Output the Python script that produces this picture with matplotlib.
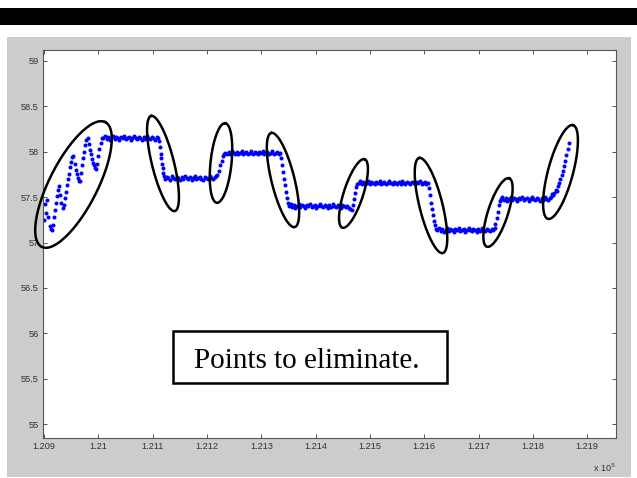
import numpy as np
import matplotlib
matplotlib.use("Agg")
import matplotlib.pyplot as plt
from matplotlib.patches import Rectangle
from matplotlib.lines import Line2D

# ---------------- data ----------------
X_TICKS = [120900, 121000, 121100, 121200, 121300, 121400, 121500, 121600, 121700, 121800, 121900]
X_TICK_LABELS = ["1.209", "1.21", "1.211", "1.212", "1.213", "1.214", "1.215", "1.216", "1.217", "1.218", "1.219"]
Y_TICKS = [55, 55.5, 56, 56.5, 57, 57.5, 58, 58.5, 59]
Y_TICK_LABELS = ["55", "55.5", "56", "56.5", "57", "57.5", "58", "58.5", "59"]

# segments: (start time, end time, values)
seg_zigzag_t = (120900, 121006)
seg_zigzag_y = [57.25, 57.42, 57.33, 57.47, 57.28, 57.18, 57.15, 57.14, 57.19, 57.28,
                57.36, 57.44, 57.51, 57.58, 57.62, 57.52, 57.44, 57.38, 57.41, 57.49,
                57.56, 57.63, 57.70, 57.76, 57.83, 57.89, 57.94, 57.95, 57.86, 57.80,
                57.75, 57.71, 57.68, 57.68, 57.77, 57.85, 57.93, 58.00, 58.07, 58.13,
                58.15, 58.08, 58.02, 57.97, 57.92, 57.88, 57.85, 57.82, 57.81, 57.87,
                57.95, 58.03, 58.10, 58.15]

seg_f1_t = (121009, 121110)
seg_f1_y = [58.15, 58.17, 58.14, 58.16, 58.13, 58.15, 58.17, 58.14, 58.16, 58.15,
            58.13, 58.16, 58.15, 58.17, 58.14, 58.15, 58.16, 58.13, 58.15, 58.17,
            58.15, 58.14, 58.16, 58.15, 58.13, 58.16, 58.14, 58.17, 58.15, 58.14,
            58.16, 58.15, 58.13, 58.16, 58.15]

seg_d1_t = (121112, 121121)
seg_d1_y = [58.12, 58.05, 57.98, 57.93, 57.87, 57.82, 57.77, 57.73]

seg_f2_t = (121123, 121217)
seg_f2_y = [57.70, 57.72, 57.71, 57.69, 57.73, 57.71, 57.70, 57.72, 57.71, 57.69,
            57.72, 57.70, 57.73, 57.71, 57.70, 57.72, 57.69, 57.71, 57.73, 57.70,
            57.71, 57.72, 57.70, 57.69, 57.72, 57.71, 57.70, 57.73, 57.71, 57.70,
            57.72, 57.73]

seg_r1_t = (121219, 121232)
seg_r1_y = [57.74, 57.79, 57.85, 57.90, 57.95, 57.98]

seg_f3_t = (121234, 121335)
seg_f3_y = [57.99, 57.97, 58.00, 57.98, 58.01, 57.99, 57.98, 58.00, 57.97, 57.99,
            58.01, 57.98, 57.99, 58.00, 57.97, 57.99, 58.01, 57.98, 58.00, 57.99,
            57.97, 58.00, 57.99, 58.01, 57.98, 57.99, 58.00, 57.97, 57.99, 58.01,
            57.98, 57.99, 58.00, 57.98, 57.99]

seg_d2_t = (121337, 121349)
seg_d2_y = [57.93, 57.85, 57.78, 57.70, 57.63, 57.56, 57.49, 57.43]

seg_f4_t = (121351, 121467)
seg_f4_y = [57.40, 57.42, 57.39, 57.41, 57.38, 57.40, 57.42, 57.39, 57.41, 57.40,
            57.38, 57.41, 57.40, 57.42, 57.39, 57.40, 57.41, 57.38, 57.40, 57.42,
            57.40, 57.39, 57.41, 57.40, 57.38, 57.41, 57.39, 57.42, 57.40, 57.39,
            57.41, 57.40, 57.38, 57.41, 57.40, 57.39, 57.40, 57.38, 57.37, 57.36]

seg_r2_t = (121469, 121477)
seg_r2_y = [57.41, 57.48, 57.55, 57.61, 57.65]

seg_f5_t = (121479, 121607)
seg_f5_y = [57.66, 57.68, 57.65, 57.67, 57.64, 57.66, 57.68, 57.65, 57.67, 57.66,
            57.64, 57.67, 57.66, 57.68, 57.65, 57.66, 57.67, 57.64, 57.66, 57.68,
            57.66, 57.65, 57.67, 57.66, 57.64, 57.67, 57.65, 57.68, 57.66, 57.65,
            57.67, 57.66, 57.64, 57.67, 57.66, 57.65, 57.67, 57.66, 57.68, 57.65,
            57.66, 57.67, 57.65, 57.66]

seg_d3_t = (121609, 121622)
seg_d3_y = [57.60, 57.52, 57.44, 57.37, 57.30, 57.24, 57.19, 57.15]

seg_f6_t = (121624, 121730)
seg_f6_y = [57.14, 57.16, 57.13, 57.15, 57.12, 57.14, 57.16, 57.13, 57.15, 57.14,
            57.12, 57.15, 57.14, 57.16, 57.13, 57.14, 57.15, 57.12, 57.14, 57.16,
            57.14, 57.13, 57.15, 57.14, 57.12, 57.15, 57.13, 57.16, 57.14, 57.13,
            57.15, 57.14, 57.13, 57.15, 57.14, 57.16]

seg_r3_t = (121731, 121739)
seg_r3_y = [57.20, 57.27, 57.34, 57.41, 57.46]

seg_f7_t = (121741, 121831)
seg_f7_y = [57.48, 57.50, 57.47, 57.49, 57.46, 57.48, 57.50, 57.47, 57.49, 57.48,
            57.46, 57.49, 57.48, 57.50, 57.47, 57.48, 57.49, 57.46, 57.48, 57.50,
            57.48, 57.47, 57.49, 57.48, 57.46, 57.49, 57.47, 57.50, 57.48, 57.47,
            57.49]

seg_r4_t = (121833, 121866)
seg_r4_y = [57.50, 57.53, 57.52, 57.55, 57.58, 57.57, 57.62, 57.66, 57.70, 57.74,
            57.79, 57.84, 57.90, 57.96, 58.03, 58.10]

SEGMENTS = [
    (seg_zigzag_t, seg_zigzag_y), (seg_f1_t, seg_f1_y), (seg_d1_t, seg_d1_y),
    (seg_f2_t, seg_f2_y), (seg_r1_t, seg_r1_y), (seg_f3_t, seg_f3_y),
    (seg_d2_t, seg_d2_y), (seg_f4_t, seg_f4_y), (seg_r2_t, seg_r2_y),
    (seg_f5_t, seg_f5_y), (seg_d3_t, seg_d3_y), (seg_f6_t, seg_f6_y),
    (seg_r3_t, seg_r3_y), (seg_f7_t, seg_f7_y), (seg_r4_t, seg_r4_y),
]

ANNOTATION_TEXT = "Points to eliminate."

# ---------------- layout (pixels of the 637x478 image) ----------------
W, H = 637, 478
# ellipses: centre x, centre y, semi-major, semi-minor, angle (deg, counter-clockwise)
ELLIPSES = [
    (73.5, 184.5, 70, 24, 63),
    (163, 163.5, 49, 11, 104),
    (221, 163, 40, 10.5, 84),
    (283, 180, 48.5, 11.5, 104),
    (353.5, 193.5, 36, 9.7, 72),
    (431, 205.5, 49, 11.5, 104),
    (498, 212.5, 36, 10, 72),
    (560.5, 172, 48.5, 12.5, 75),
]

def fx(px):
    return px / W

def fy(py):
    return 1 - py / H

fig = plt.figure(figsize=(W / 100, H / 100), dpi=100)
fig.patch.set_facecolor("white")

fig.add_artist(Rectangle((0, fy(25)), 1, 17 / H, transform=fig.transFigure,
                         facecolor="black", edgecolor="none", zorder=-2))
fig.add_artist(Rectangle((fx(7), fy(477)), 624 / W, 440 / H, transform=fig.transFigure,
                         facecolor="#cccccc", edgecolor="none", zorder=-2))

ax = fig.add_axes([fx(43), fy(438), 573 / W, 388 / H])
ax.set_facecolor("white")

for (t0, t1), yv in SEGMENTS:
    xs = np.linspace(t0, t1, len(yv))
    ax.plot(xs, yv, linestyle="none", marker="o", markersize=2.9,
            markerfacecolor="#0000ff", markeredgewidth=0, color="#0000ff")

ax.set_xlim(120898, 121953)
ax.set_ylim(54.846, 59.121)
ax.set_xticks(X_TICKS)
ax.set_xticklabels(X_TICK_LABELS)
ax.set_yticks(Y_TICKS)
ax.set_yticklabels(Y_TICK_LABELS)
ax.tick_params(direction="in", length=3, width=0.7, color="#555555",
               top=True, right=True, labelsize=6.6, labelcolor="#333333", pad=3)
for lab in ax.get_xticklabels() + ax.get_yticklabels():
    lab.set_family("Liberation Sans")
for sp in ax.spines.values():
    sp.set_color("#555555")
    sp.set_linewidth(0.8)

fig.text(fx(593), fy(472), r"x 10$^{5}$", fontsize=6.6, color="#333333",
         family="Liberation Sans", ha="left", va="baseline")

t = np.linspace(0, 2 * np.pi, 200)
for cx, cy, a, b, ang in ELLIPSES:
    th = np.deg2rad(ang)
    ex = cx + a * np.cos(th) * np.cos(t) - b * np.sin(th) * np.sin(t)
    ey = cy - (a * np.sin(th) * np.cos(t) + b * np.cos(th) * np.sin(t))
    fig.add_artist(Line2D(ex / W, 1 - ey / H, transform=fig.transFigure,
                          color="black", linewidth=1.8, zorder=5))

fig.add_artist(Rectangle((fx(173), fy(383)), 274 / W, 52 / H, transform=fig.transFigure,
                         facecolor="white", edgecolor="black", linewidth=1.8, zorder=5))
fig.text(fx(307), fy(368), ANNOTATION_TEXT, fontsize=21, family="Liberation Serif",
         ha="center", va="baseline", color="black", zorder=6)

fig.savefig("out.png", dpi=100)
